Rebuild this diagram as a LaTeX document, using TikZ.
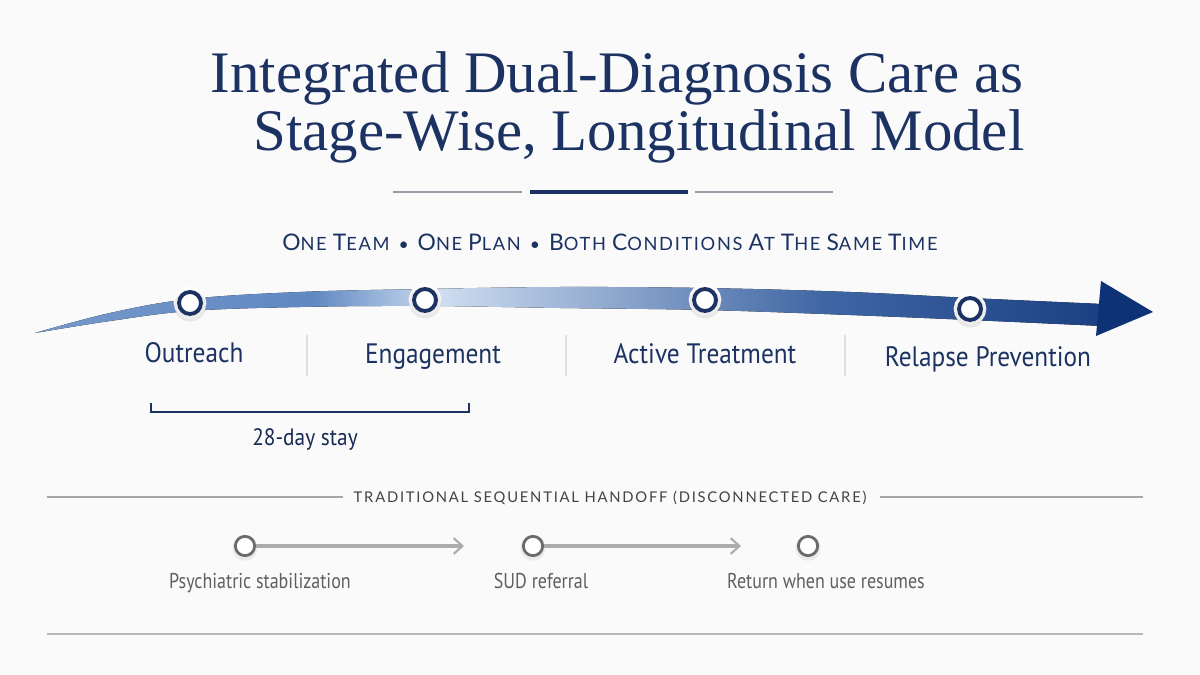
\documentclass[tikz,border=0pt]{standalone}
\usepackage{fontspec}
\setmainfont{Liberation Serif}
\setsansfont[FakeStretch=0.9]{PT Sans}
\newfontfamily\capsfont[LetterSpace=9]{Lato}
\newfontfamily\handfont[FakeStretch=0.84]{PT Sans}
\usetikzlibrary{arrows.meta,shadows,positioning,calc}

\definecolor{navy}{RGB}{27,50,98}
\definecolor{arrowlight}{RGB}{206,221,240}
\definecolor{arrowmid}{RGB}{96,136,194}
\definecolor{arrowdark}{RGB}{14,50,118}
\definecolor{rulegray}{RGB}{150,156,166}
\definecolor{handgray}{RGB}{95,95,95}
\definecolor{paper}{RGB}{250,250,250}

\pgfdeclarehorizontalshading{bandshade}{100bp}{color(0bp)=(arrowlight!60!white); color(25bp)=(arrowmid!80!arrowlight); color(38bp)=(arrowmid); color(44bp)=(arrowlight); color(62bp)=(arrowmid!60!arrowdark); color(80bp)=(arrowdark); color(100bp)=(arrowdark)}

\newcommand\capword[2]{{\fontsize{13}{14}\selectfont #1}{\fontsize{10.4}{14}\selectfont #2}}

\begin{document}
\begin{tikzpicture}[x=0.02cm, y=-0.02cm,
    stagedot/.style={circle, draw=navy, line width=2.2pt, fill=white, minimum size=12.5pt, inner sep=0pt,
      preaction={draw=white, line width=6pt},
      drop shadow={shadow xshift=0pt, shadow yshift=-1pt, shadow scale=1.45, opacity=0.15}},
    stagelabel/.style={font=\sffamily\fontsize{16}{18}\selectfont, text=navy, anchor=base},
    handdot/.style={circle, draw=gray!85!black, line width=1.6pt, fill=white, minimum size=11pt, inner sep=0pt,
      drop shadow={shadow xshift=0pt, shadow yshift=-1pt, shadow scale=1.3, opacity=0.12}},
    handlabel/.style={font=\handfont\fontsize{12.2}{14}\selectfont, text=handgray, anchor=base},
    handarrow/.style={draw=gray!65, line width=2pt, -{Straight Barb[length=5pt, width=9pt, line width=1.2pt]}},
    sepline/.style={draw=gray!25, line width=0.8pt}]

\fill[paper] (0,0) rectangle (1200,675);
\useasboundingbox (0,0) rectangle (1200,675);

% title
\node (title1) [anchor=base, text=navy, font=\fontsize{33.5}{38}\selectfont] at (617,93) {Integrated Dual-Diagnosis Care as};
\node (title2) [anchor=base, text=navy, font=\fontsize{33.5}{38}\selectfont] at (639,151) {Stage-Wise, Longitudinal Model};
\draw[rulegray, line width=0.6pt] (393,192) -- (522,192);
\draw[navy, line width=2.2pt] (530,192) -- (688,192);
\draw[rulegray, line width=0.6pt] (695,192) -- (833,192);

\node (motto) [anchor=base, text=navy, font=\capsfont] at (610,251)
  {\capword{O}{NE} \capword{T}{EAM} \,\textbullet\, \capword{O}{NE} \capword{P}{LAN} \,\textbullet\, \capword{B}{OTH} \capword{C}{ONDITIONS} \capword{A}{T} \capword{T}{HE} \capword{S}{AME} \capword{T}{IME}};

% integrated arrow
\fill[shading=bandshade]
  plot[smooth, tension=0.6] coordinates {(35,333) (110,313) (190,299) (300,292) (425,289) (560,287) (705,288) (850,292) (970,298) (1102,304)}
  -- plot[smooth, tension=0.6] coordinates {(1102,326) (970,320) (850,315) (705,310) (560,308) (425,306) (300,307) (190,311) (110,321) (35,333)}
  -- cycle;
\fill[arrowdark] (1101,281) -- (1153,312) -- (1096,336) -- cycle;

\node (dot1) [stagedot] at (190,303) {};
\node (dot2) [stagedot] at (425,300) {};
\node (dot3) [stagedot] at (705,300) {};
\node (dot4) [stagedot] at (970,309) {};

\node (outreach) [stagelabel] at (194,363) {Outreach};
\node (engage) [stagelabel] at (433,364) {Engagement};
\node (active) [stagelabel] at (705,364) {Active Treatment};
\node (relapse) [stagelabel] at (988,367) {Relapse Prevention};

\draw[sepline] (307,335) -- (307,376);
\draw[sepline] (566,335) -- (566,376);
\draw[sepline] (845,335) -- (845,376);

% 28-day bracket
\coordinate (brleft) at (151,403);
\coordinate (brright) at (469,403);
\draw[navy, line width=0.8pt] (brleft) -- ++(0,9) -| (brright);
\node (stay) [anchor=base, text=navy!85!black, font=\sffamily\fontsize{13.5}{15}\selectfont] at (305,445) {28-day stay};

% traditional handoff
\node (handtitle) [anchor=base, text=handgray!70!black, font={\capsfont\addfontfeature{LetterSpace=12}\fontsize{8.4}{10}\selectfont}] at (610,502) {TRADITIONAL SEQUENTIAL HANDOFF (DISCONNECTED CARE)};
\draw[gray!70, line width=0.7pt] (47,497) -- (343,497);
\draw[gray!70, line width=0.7pt] (880,497) -- (1143,497);

\node (psych) [handdot] at (245,546) {};
\node (sud) [handdot] at (533,546) {};
\node (return) [handdot] at (808,546) {};
\coordinate (psychend) at (464,546);
\coordinate (sudend) at (741,546);
\draw[handarrow] (psych.east) -- (psychend);
\draw[handarrow] (sud.east) -- (sudend);

\node (psychlbl) [handlabel] at (260,588) {Psychiatric stabilization};
\node (sudlbl) [handlabel] at (541,588) {SUD referral};
\node (returnlbl) [handlabel] at (826,588) {Return when use resumes};

\draw[gray!55, line width=0.7pt] (47,634) -- (1143,634);
\end{tikzpicture}
\end{document}
